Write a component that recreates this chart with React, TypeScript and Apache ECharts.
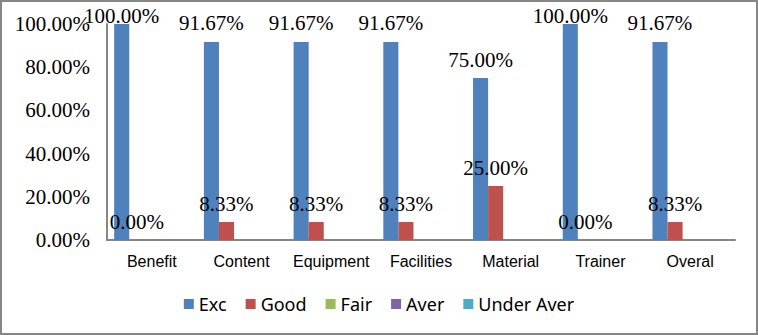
import React, { useEffect, useRef } from "react";
import * as echarts from "echarts";

const categories = ["Benefit", "Content", "Equipment", "Facilities", "Material", "Trainer", "Overal"];
const excValues = [100, 91.67, 91.67, 91.67, 75, 100, 91.67];
const goodValues = [0, 8.33, 8.33, 8.33, 25, 0, 8.33];
const fairValues = [0, 0, 0, 0, 0, 0, 0];
const averValues = [0, 0, 0, 0, 0, 0, 0];
const underAverValues = [0, 0, 0, 0, 0, 0, 0];
const seriesNames = ["Exc", "Good", "Fair", "Aver", "Under Aver"];
const colors = ["#4F81BD", "#C0504D", "#9BBB59", "#8064A2", "#4BACC6"];
const yMax = 100;
const serif = "'Times New Roman', 'Liberation Serif', serif";

export default function App() {
  const ref = useRef<HTMLDivElement>(null);
  useEffect(() => {
    if (!ref.current) return;
    const chart = echarts.init(ref.current, null, { renderer: "svg" });
    const labelBase = {
      show: true,
      position: "top" as const,
      distance: 8,
      fontFamily: serif,
      fontSize: 21,
      color: "#000",
      formatter: (p: any) => `${Number(p.value).toFixed(2)}%`,
    };
    const withLabels = (vals: number[]) =>
      vals.map((v) => (v >= yMax ? { value: v, label: { distance: -2 } } : v));
    const all = [excValues, goodValues, fairValues, averValues, underAverValues];
    chart.setOption({
      animation: false,
      color: colors,
      graphic: [
        {
          type: "rect",
          shape: { x: 1, y: 1, width: 756, height: 333 },
          style: { fill: "none", stroke: "#868686", lineWidth: 2 },
          silent: true,
        },
      ],
      grid: { left: 107, right: 23, top: 24, bottom: 95 },
      xAxis: {
        type: "category",
        data: categories,
        axisLine: { lineStyle: { color: "#868686", width: 2 } },
        axisTick: { show: false },
        axisLabel: { fontFamily: "Liberation Sans", fontSize: 16, color: "#000", margin: 13, interval: 0 },
      },
      yAxis: {
        type: "value",
        min: 0,
        max: yMax,
        interval: 20,
        splitLine: { show: false },
        axisLine: { show: true, lineStyle: { color: "#868686", width: 2 } },
        axisTick: { show: false },
        axisLabel: {
          fontFamily: serif,
          fontSize: 21,
          color: "#000",
          margin: 17,
          formatter: (v: number) => `${v.toFixed(2)}%`,
        },
      },
      legend: {
        bottom: 17,
        left: "center",
        icon: "rect",
        itemWidth: 10,
        itemHeight: 10,
        itemGap: 19,
        textStyle: { fontFamily: "Noto Sans", fontSize: 18, color: "#000" },
        data: seriesNames,
      },
      series: seriesNames.map((name, i) => ({
        name,
        type: "bar",
        data: i < 2 ? withLabels(all[i]) : all[i],
        barGap: "0%",
        barCategoryGap: "16%",
        label: i < 2 ? labelBase : { show: false },
      })),
    });
    return () => chart.dispose();
  }, []);
  return (
    <div style={{ position: "fixed", left: 0, top: 0, width: 758, height: 335, background: "#fff" }}>
      <div ref={ref} style={{ width: 758, height: 335 }} />
    </div>
  );
}
